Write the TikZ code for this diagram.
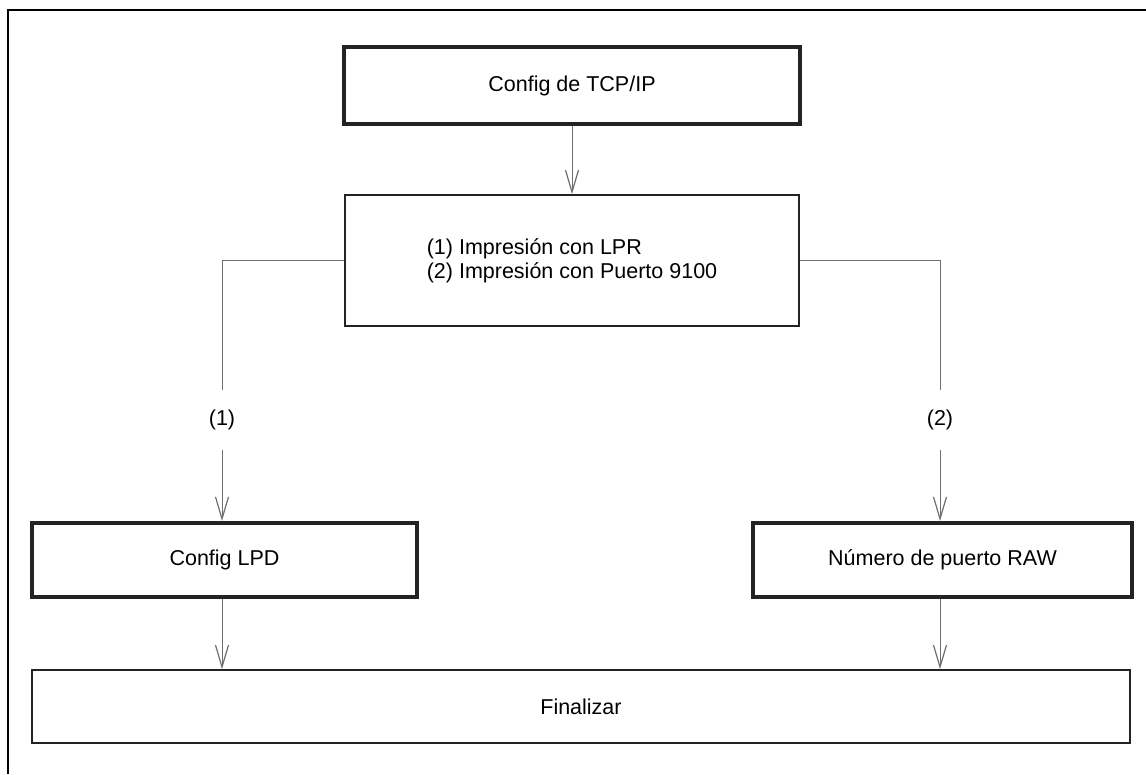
\documentclass[tikz,border=0pt]{standalone}
\usepackage{fontspec}
\setmainfont{Liberation Sans}
\definecolor{inkgray}{RGB}{35,35,35}
\definecolor{linegray}{RGB}{110,110,110}
\usetikzlibrary{calc, positioning, arrows.meta}

\begin{document}
\begin{tikzpicture}[x=1pt, y=-1pt,
    mainbox/.style={draw=inkgray, line width=4pt, minimum height=74pt,
      inner sep=0pt, font=\fontsize{21.5}{24}\selectfont, align=center},
    plainbox/.style={draw=inkgray, line width=1.6pt, inner sep=0pt,
      font=\fontsize{21.5}{24}\selectfont},
    arrow/.style={-{Straight Barb[length=22pt, width=13pt, line width=1.2pt]},
      linegray, line width=1pt},
    link/.style={linegray, line width=1pt},
    caselabel/.style={font=\fontsize{21.5}{24}\selectfont, minimum height=60pt,
      inner sep=0pt},
  ]
    \useasboundingbox (0,0) rectangle (1146,774);
    % frame
    \draw[line width=2.6pt] (8,774) -- (8,10) -- (1146,10);

    \node[mainbox, minimum width=456pt, minimum height=77pt] (tcp) at (572,85.5) {Config de TCP/IP};
    \node[plainbox, minimum width=454pt, minimum height=131pt, align=left] (mode) at (572,260.5)
      {(1) Impresión con LPR\\(2) Impresión con Puerto 9100};
    \node[caselabel] (c1) at (222,420) {(1)};
    \node[caselabel] (c2) at (940,420) {(2)};
    \node[mainbox, minimum width=385pt] (lpd) at (224.5,560) {Config LPD};
    \node[mainbox, minimum width=379pt] (raw) at (942.5,560) {Número de puerto RAW};
    \node[plainbox, minimum width=1098pt, minimum height=73pt] (fin) at (581,706.5) {Finalizar};

    \draw[arrow] (tcp) -- (mode);
    \draw[link] (mode.west) -| (c1.north);
    \draw[link] (mode.east) -| (c2.north);
    \draw[arrow] (c1.south) -- (c1 |- lpd.north);
    \draw[arrow] (c2.south) -- (c2 |- raw.north);
    \draw[arrow] (lpd.south -| c1) -- (c1 |- fin.north);
    \draw[arrow] (raw.south -| c2) -- (c2 |- fin.north);
\end{tikzpicture}
\end{document}
